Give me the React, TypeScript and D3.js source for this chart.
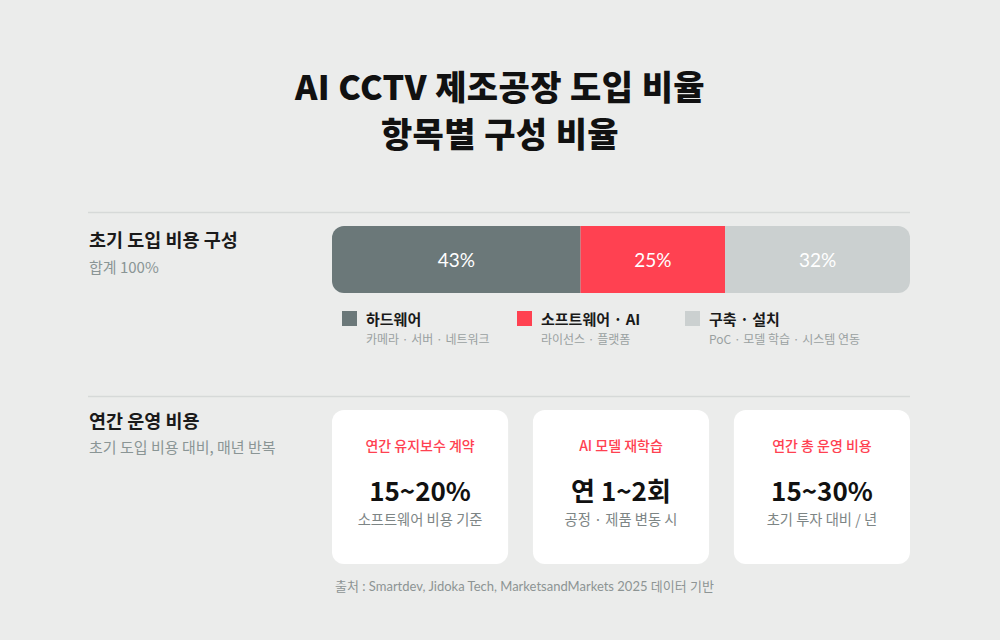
import React from "react";
import * as d3 from "d3";

const W = 1000;
const H = 640;

const titleLines = ["AI CCTV 제조공장 도입 비율", "항목별 구성 비율"];

const segNames = ["하드웨어", "소프트웨어 · AI", "구축 · 설치"];
const segSubs = ["카메라 · 서버 · 네트워크", "라이선스 · 플랫폼", "PoC · 모델 학습 · 시스템 연동"];
const segValues = [43, 25, 32];
const segColors = ["#6b7879", "#ff4151", "#cbd0d0"];
const segTextColors = ["#ffffff", "#ffffff", "#ffffff"];

const cardTitles = ["연간 유지보수 계약", "AI 모델 재학습", "연간 총 운영 비용"];
const cardValues = ["15~20%", "연 1~2회", "15~30%"];
const cardSubs = ["소프트웨어 비용 기준", "공정 · 제품 변동 시", "초기 투자 대비 / 년"];

const section1 = { title: "초기 도입 비용 구성", sub: "합계 100%" };
const section2 = { title: "연간 운영 비용", sub: "초기 도입 비용 대비, 매년 반복" };
const source = "출처 : Smartdev, Jidoka Tech, MarketsandMarkets 2025 데이터 기반";

const FONT = "'Noto Sans CJK KR', 'Noto Sans', sans-serif";

export default function App() {
  const barX0 = 332;
  const barX1 = 910;
  const barY = 226;
  const barH = 67;
  const r = 12;

  const total = d3.sum(segValues);
  const x = d3.scaleLinear().domain([0, total]).range([barX0, barX1]);
  const cum = segValues.map((_, i) => d3.sum(segValues.slice(0, i)));

  const legendX = [342, 517, 685];

  const cardX = d3.scaleBand<number>().domain([0, 1, 2]).range([332, 910]).paddingInner(25 / 176 * 0.87);
  const cardY = 410;
  const cardH = 154;

  return (
    <svg width={W} height={H} style={{ display: "block", position: "absolute", left: 0, top: 0 }} fontFamily={FONT}>
      <defs>
        <clipPath id="barClip">
          <rect x={barX0} y={barY} width={barX1 - barX0} height={barH} rx={r} ry={r} />
        </clipPath>
      </defs>
      <rect x={0} y={0} width={W} height={H} fill="#ebeceb" />

      {titleLines.map((t, i) => (
        <text key={i} x={500} y={100 + i * 47} textAnchor="middle" fontSize={34} fontWeight={900} fill="#111" letterSpacing={0.4}>
          {t}
        </text>
      ))}

      <line x1={88} x2={910} y1={212.5} y2={212.5} stroke="#d6d9d8" strokeWidth={1.5} />
      <line x1={88} x2={910} y1={396.5} y2={396.5} stroke="#d6d9d8" strokeWidth={1.5} />

      <text x={89} y={247} fontSize={18.5} fontWeight={700} fill="#1a1a1a">{section1.title}</text>
      <text x={89} y={273} fontSize={15} fill="#8a9595">{section1.sub}</text>

      <g clipPath="url(#barClip)">
        {segValues.map((v, i) => (
          <rect key={i} x={x(cum[i])} y={barY} width={x(cum[i] + v) - x(cum[i])} height={barH} fill={segColors[i]} />
        ))}
      </g>
      {segValues.map((v, i) => (
        <text key={i} x={(x(cum[i]) + x(cum[i] + v)) / 2} y={barY + barH / 2 + 7} textAnchor="middle" fontSize={19} fontFamily="Lato, sans-serif" fill={segTextColors[i]}>
          {v}%
        </text>
      ))}

      {segNames.map((n, i) => (
        <g key={i}>
          <rect x={legendX[i]} y={311} width={15} height={15} fill={segColors[i]} />
          <text x={legendX[i] + 24} y={325} fontSize={15} fontWeight={700} fill="#1a1a1a">{n}</text>
          <text x={legendX[i] + 24} y={344} fontSize={12} fill="#9aa1a1">{segSubs[i]}</text>
        </g>
      ))}

      <text x={89} y={428} fontSize={18.5} fontWeight={700} fill="#1a1a1a">{section2.title}</text>
      <text x={89} y={453} fontSize={15} fill="#8a9595">{section2.sub}</text>

      {cardTitles.map((t, i) => {
        const cx = cardX(i)!;
        const cw = cardX.bandwidth();
        const mid = cx + cw / 2;
        return (
          <g key={i}>
            <rect x={cx} y={cardY} width={cw} height={cardH} rx={12} ry={12} fill="#ffffff" />
            <text x={mid} y={451} textAnchor="middle" fontSize={14} fontWeight={500} fill="#ff4151">{t}</text>
            <text x={mid} y={501} textAnchor="middle" fontSize={26} fontWeight={700} fill="#111">{cardValues[i]}</text>
            <text x={mid} y={525} textAnchor="middle" fontSize={14.3} fill="#7d8585">{cardSubs[i]}</text>
          </g>
        );
      })}

      <text x={335} y={591} fontSize={13} fontFamily="Lato, 'Noto Sans CJK KR', sans-serif" fill="#8d9494">{source}</text>
    </svg>
  );
}
